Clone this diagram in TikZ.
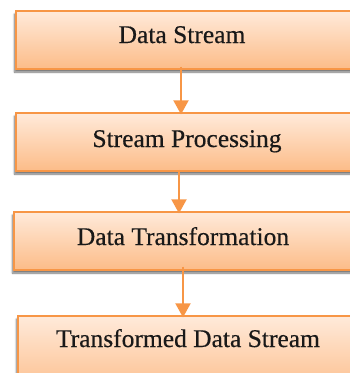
\documentclass[tikz,border=0pt]{standalone}
\usepackage{fontspec}
\setmainfont{Liberation Serif}
\newfontfamily\flowfont[FakeBold=0.4]{Liberation Serif}
\usetikzlibrary{arrows.meta,shadows.blur}
\definecolor{boxtop}{HTML}{FFEADA}
\definecolor{boxbottom}{HTML}{FCBC88}
\definecolor{boxline}{HTML}{F79646}
\tikzset{
  flowbox/.style={rectangle, draw=boxline, line width=1.3pt,
    top color=boxtop, bottom color=boxbottom, inner sep=0pt,
    blur shadow={shadow xshift=-1.5pt, shadow yshift=-3pt,
      shadow blur steps=6, shadow opacity=55}},
  flowtext/.style={anchor=base, inner sep=0pt,
    font=\flowfont\fontsize{25.5}{30}\selectfont, text=black!90},
  flowarrow/.style={draw=boxline, line width=2pt,
    -{Triangle[width=15pt,length=14pt]}}
}
\begin{document}
\begin{tikzpicture}[x=1pt,y=-1pt]
  \useasboundingbox (0,0) rectangle (350,373);
  \begin{scope}
    \clip (0,0) rectangle (350,373);
    % boxes (they run on past the right edge)
    \node[flowbox, minimum width=344pt, minimum height=58pt] (b1) at (188,40) {};
    \node[flowbox, minimum width=344pt, minimum height=58pt] (b2) at (188,142) {};
    \node[flowbox, minimum width=346pt, minimum height=58pt] (b3) at (187,241) {};
    \node[flowbox, minimum width=342pt, minimum height=80pt] (b4) at (189,356) {};
    % labels
    \node[flowtext] (t1) at (182,43) {Data Stream};
    \node[flowtext] (t2) at (187,147) {Stream Processing};
    \node[flowtext] (t3) at (183,245) {Data Transformation};
    \node[flowtext] (t4) at (188,347) {Transformed Data Stream};
    % connectors
    \coordinate (a1) at (181,0);
    \coordinate (a2) at (179,0);
    \coordinate (a3) at (183,0);
    \draw[flowarrow] ([yshift=3pt]b1.south -| a1) -- ([yshift=-2pt]b2.north -| a1);
    \draw[flowarrow] ([yshift=2pt]b2.south -| a2) -- ([yshift=-2pt]b3.north -| a2);
    \draw[flowarrow] ([yshift=4pt]b3.south -| a3) -- ([yshift=-2pt]b4.north -| a3);
  \end{scope}
\end{tikzpicture}
\end{document}
